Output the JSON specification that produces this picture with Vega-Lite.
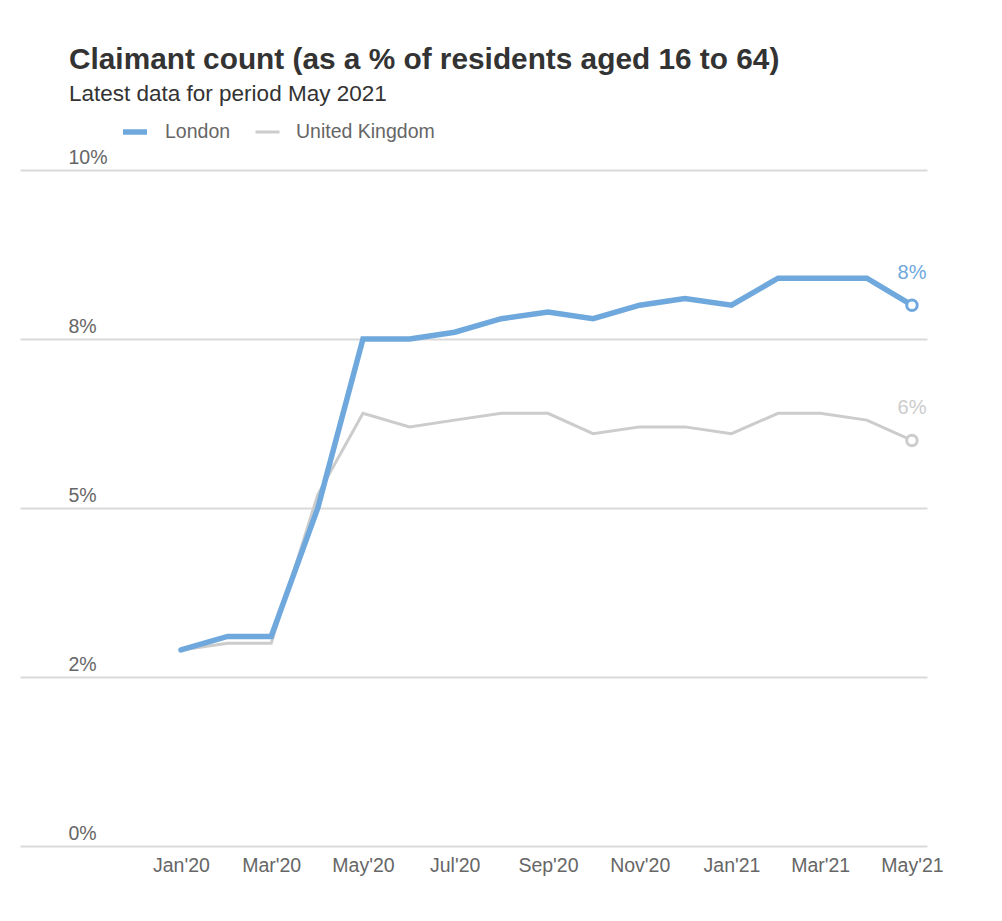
{
  "$schema": "https://vega.github.io/schema/vega-lite/v6.json",
  "autosize": "none",
  "width": 907,
  "height": 676,
  "padding": {"left": 20, "top": 170, "right": 75, "bottom": 75},
  "background": "white",
  "title": {
    "text": "Claimant count (as a % of residents aged 16 to 64)",
    "subtitle": "Latest data for period May 2021",
    "anchor": "start",
    "dx": 49,
    "offset": 12,
    "font": "Liberation Sans",
    "fontSize": 29.8,
    "fontWeight": "bold",
    "color": "#333333",
    "subtitleFont": "Liberation Sans",
    "subtitleFontSize": 22.5,
    "subtitleColor": "#333333",
    "subtitlePadding": 8
  },
  "config": {
    "view": {"stroke": null},
    "font": "Liberation Sans",
    "axis": {"labelFont": "Liberation Sans", "labelColor": "#666666", "titleFont": "Liberation Sans"},
    "legend": {
      "orient": "none",
      "legendX": 100,
      "legendY": -53,
      "direction": "horizontal",
      "symbolType": "stroke",
      "symbolSize": 576,
      "labelFont": "Liberation Sans",
      "labelFontSize": 19.5,
      "labelColor": "#666666",
      "labelOffset": 15,
      "columnPadding": 18,
      "padding": 0
    }
  },
  "data": {
    "values": [
      {"date": "2020-01-01", "series": "London", "value": 2.9},
      {"date": "2020-02-01", "series": "London", "value": 3.1},
      {"date": "2020-03-01", "series": "London", "value": 3.1},
      {"date": "2020-04-01", "series": "London", "value": 5.0},
      {"date": "2020-05-01", "series": "London", "value": 7.5},
      {"date": "2020-06-01", "series": "London", "value": 7.5},
      {"date": "2020-07-01", "series": "London", "value": 7.6},
      {"date": "2020-08-01", "series": "London", "value": 7.8},
      {"date": "2020-09-01", "series": "London", "value": 7.9},
      {"date": "2020-10-01", "series": "London", "value": 7.8},
      {"date": "2020-11-01", "series": "London", "value": 8.0},
      {"date": "2020-12-01", "series": "London", "value": 8.1},
      {"date": "2021-01-01", "series": "London", "value": 8.0},
      {"date": "2021-02-01", "series": "London", "value": 8.4},
      {"date": "2021-03-01", "series": "London", "value": 8.4},
      {"date": "2021-04-01", "series": "London", "value": 8.4},
      {"date": "2021-05-01", "series": "London", "value": 8.0},
      {"date": "2020-01-01", "series": "United Kingdom", "value": 2.9},
      {"date": "2020-02-01", "series": "United Kingdom", "value": 3.0},
      {"date": "2020-03-01", "series": "United Kingdom", "value": 3.0},
      {"date": "2020-04-01", "series": "United Kingdom", "value": 5.2},
      {"date": "2020-05-01", "series": "United Kingdom", "value": 6.4},
      {"date": "2020-06-01", "series": "United Kingdom", "value": 6.2},
      {"date": "2020-07-01", "series": "United Kingdom", "value": 6.3},
      {"date": "2020-08-01", "series": "United Kingdom", "value": 6.4},
      {"date": "2020-09-01", "series": "United Kingdom", "value": 6.4},
      {"date": "2020-10-01", "series": "United Kingdom", "value": 6.1},
      {"date": "2020-11-01", "series": "United Kingdom", "value": 6.2},
      {"date": "2020-12-01", "series": "United Kingdom", "value": 6.2},
      {"date": "2021-01-01", "series": "United Kingdom", "value": 6.1},
      {"date": "2021-02-01", "series": "United Kingdom", "value": 6.4},
      {"date": "2021-03-01", "series": "United Kingdom", "value": 6.4},
      {"date": "2021-04-01", "series": "United Kingdom", "value": 6.3},
      {"date": "2021-05-01", "series": "United Kingdom", "value": 6.0}
    ]
  },
  "encoding": {
    "x": {
      "field": "date",
      "type": "temporal",
      "scale": {
        "type": "utc",
        "domain": [
          {"year": 2019, "month": 9, "date": 16, "utc": true},
          {"year": 2021, "month": 5, "date": 11, "utc": true}
        ]
      },
      "axis": {
        "title": null,
        "format": "%b'%y",
        "values": [
          {"year": 2020, "month": 1, "date": 1, "utc": true},
          {"year": 2020, "month": 3, "date": 1, "utc": true},
          {"year": 2020, "month": 5, "date": 1, "utc": true},
          {"year": 2020, "month": 7, "date": 1, "utc": true},
          {"year": 2020, "month": 9, "date": 1, "utc": true},
          {"year": 2020, "month": 11, "date": 1, "utc": true},
          {"year": 2021, "month": 1, "date": 1, "utc": true},
          {"year": 2021, "month": 3, "date": 1, "utc": true},
          {"year": 2021, "month": 5, "date": 1, "utc": true}
        ],
        "grid": false,
        "domain": false,
        "ticks": false,
        "labelFontSize": 19.5,
        "labelPadding": 10,
        "labelBaseline": "top"
      }
    },
    "y": {
      "field": "value",
      "type": "quantitative",
      "scale": {"domain": [0, 10], "nice": false},
      "axis": {
        "title": null,
        "values": [0, 2.5, 5, 7.5, 10],
        "labelExpr": "datum.value == 2.5 ? '2%' : datum.value == 7.5 ? '8%' : datum.value + '%'",
        "grid": true,
        "gridColor": "#d9d9d9",
        "gridWidth": 2,
        "domain": false,
        "ticks": false,
        "tickSize": 0,
        "labelAlign": "left",
        "labelBaseline": "bottom",
        "labelPadding": -48,
        "labelOffset": -3,
        "labelFontSize": 19.5
      }
    }
  },
  "layer": [
    {
      "transform": [{"filter": "datum.series == 'United Kingdom'"}],
      "mark": {"type": "line", "strokeCap": "round"},
      "encoding": {
        "color": {"field": "series", "type": "nominal", "title": null, "scale": {"domain": ["London", "United Kingdom"], "range": ["#6fa8dc", "#cccccc"]}},
        "strokeWidth": {"field": "series", "type": "nominal", "title": null, "scale": {"domain": ["London", "United Kingdom"], "range": [5.5, 3]}}
      }
    },
    {
      "transform": [{"filter": "datum.series == 'London'"}],
      "mark": {"type": "line", "strokeCap": "round"},
      "encoding": {
        "color": {"field": "series", "type": "nominal", "title": null, "scale": {"domain": ["London", "United Kingdom"], "range": ["#6fa8dc", "#cccccc"]}},
        "strokeWidth": {"field": "series", "type": "nominal", "title": null, "scale": {"domain": ["London", "United Kingdom"], "range": [5.5, 3]}}
      }
    },
    {
      "transform": [{"filter": "time(datum.date) == utc(2021, 4, 1)"}],
      "mark": {"type": "point", "filled": true, "fill": "white", "size": 110, "strokeWidth": 3, "opacity": 1},
      "encoding": {
        "stroke": {"condition": {"test": "datum.series == 'London'", "value": "#6fa8dc"}, "value": "#cccccc"}
      }
    },
    {
      "transform": [
        {"filter": "time(datum.date) == utc(2021, 4, 1)"},
        {"calculate": "format(datum.value, '.0f') + '%'", "as": "label"}
      ],
      "mark": {"type": "text", "align": "center", "baseline": "alphabetic", "dy": -26, "fontSize": 20, "font": "Liberation Sans"},
      "encoding": {
        "text": {"field": "label"},
        "color": {"condition": {"test": "datum.series == 'London'", "value": "#6fa8dc"}, "value": "#cccccc"}
      }
    }
  ]
}
